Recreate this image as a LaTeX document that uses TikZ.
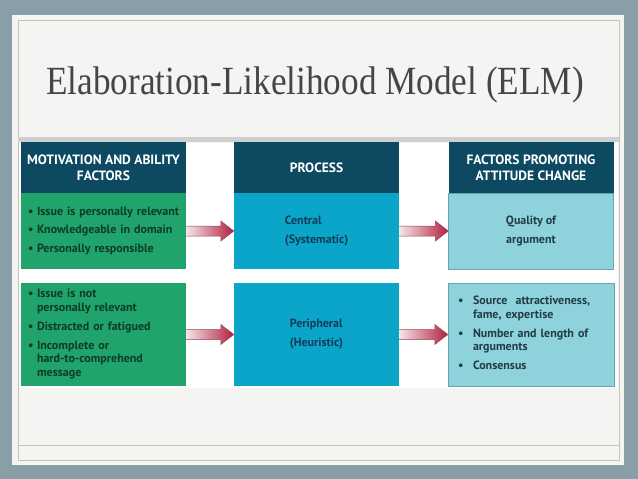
\documentclass[tikz,border=0pt]{standalone}
\usepackage{fontspec}
\setmainfont{Liberation Serif}
\newfontfamily\titlefont[FakeStretch=0.88]{Liberation Serif}
\newfontfamily\boxfont{PT Sans}
\definecolor{SlateBack}{RGB}{138,158,168}
\definecolor{CardWhite}{RGB}{244,244,243}
\definecolor{CardLine}{RGB}{200,195,186}
\definecolor{BandGray}{RGB}{205,208,207}
\definecolor{HeadNavy}{RGB}{13,74,98}
\definecolor{MotGreen}{RGB}{32,164,108}
\definecolor{ProcBlue}{RGB}{10,165,201}
\definecolor{FactCyan}{RGB}{142,211,220}
\definecolor{FactEdge}{RGB}{100,165,178}
\definecolor{MotText}{RGB}{12,59,40}
\definecolor{ProcText}{RGB}{15,60,87}
\definecolor{FactText}{RGB}{33,60,69}
\definecolor{TitleGray}{RGB}{69,69,69}
\definecolor{ArrowPale}{RGB}{246,228,232}
\definecolor{ArrowRed}{RGB}{178,32,62}
\definecolor{ArrowEdge}{RGB}{150,70,88}
\usepackage{tikz}
\usetikzlibrary{calc}

\newcommand{\bulletlist}[2]{\begin{tabular}{@{}p{#1}@{}l@{}}#2\end{tabular}}
\newcommand{\fatarrow}[2]{%
  \shade[left color=ArrowPale, right color=ArrowRed, draw=ArrowEdge, line width=0.5pt]
    ($(#1.east)+(0,-5)$) -- ($(#2.west)+(-13,-5)$) -- ($(#2.west)+(-13,-10)$) -- (#2.west)
    -- ($(#2.west)+(-13,10)$) -- ($(#2.west)+(-13,5)$) -- ($(#1.east)+(0,5)$);}

\begin{document}
\begin{tikzpicture}[x=1pt,y=-1pt,
  head/.style={fill=HeadNavy, text=white, align=center, inner sep=0pt,
    minimum width=165pt, minimum height=51pt,
    font=\boxfont\bfseries\fontsize{13.5}{16}\selectfont},
  body/.style={inner sep=0pt, minimum width=165pt,
    font=\boxfont\bfseries\fontsize{12}{13.5}\selectfont},
  listbody/.style={body, align=left, text width=151pt, inner xsep=7pt}]
\useasboundingbox (0,0) rectangle (638,479);
\fill[SlateBack] (0,0) rectangle (638,479);
\fill[CardWhite] (12,15) rectangle (624,465);
\draw[CardLine] (18,20) rectangle (619,460);
\fill[BandGray] (18,137) rectangle (619,142);
\fill[white] (19,143) rectangle (618,388);
\draw[CardLine, line width=0.8pt] (18,445) -- (619,445);
\node[anchor=base west, inner sep=0pt, text=TitleGray, font=\titlefont\fontsize{40}{48}\selectfont] (title) at (46,94) {Elaboration-Likelihood Model (ELM)};

\node[head] (motHead) at (103.5,167.5) {MOTIVATION AND ABILITY\\FACTORS};
\node[head] (procHead) at (316.5,167.5) {PROCESS};
\node[head] (factHead) at (531,167.5) {FACTORS PROMOTING\\ATTITUDE CHANGE};

\node[listbody, fill=MotGreen, text=MotText, minimum height=76pt] (motCentral) at (103.5,231) {\bulletlist{9pt}{%
  \textbullet & Issue is personally relevant\\[5pt]
  \textbullet & Knowledgeable in domain\\[5pt]
  \textbullet & Personally responsible}};
\node[body, fill=ProcBlue, text=ProcText, minimum height=76pt, align=left] (procCentral) at (316.5,231) {Central\\[5.5pt](Systematic)};
\node[body, fill=FactCyan, draw=FactEdge, text=FactText, minimum height=76pt, align=center] (factCentral) at (531,231) {Quality of\\[5.5pt]argument};

\node[listbody, fill=MotGreen, text=MotText, minimum height=103pt] (motPeriph) at (103.5,334.5) {\bulletlist{9pt}{%
  \textbullet & Issue is not\\
  & personally relevant\\[5.5pt]
  \textbullet & Distracted or fatigued\\[5.5pt]
  \textbullet & Incomplete or\\
  & hard-to-comprehend\\
  & message}};
\node[body, fill=ProcBlue, text=ProcText, minimum height=103pt, align=left] (procPeriph) at (316.5,334.5) {Peripheral\\[5.5pt](Heuristic)};
\node[body, fill=FactCyan, draw=FactEdge, text=FactText, minimum height=103pt, align=left, text width=146pt, inner xsep=10pt] (factPeriph) at (531,334.5) {\bulletlist{15pt}{%
  \textbullet & Source\ \ attractiveness,\\
  & fame, expertise\\[5.5pt]
  \textbullet & Number and length of\\
  & arguments\\[5.5pt]
  \textbullet & Consensus}};

\fatarrow{motCentral}{procCentral}
\fatarrow{procCentral}{factCentral}
\fatarrow{motPeriph}{procPeriph}
\fatarrow{procPeriph}{factPeriph}
\end{tikzpicture}
\end{document}
